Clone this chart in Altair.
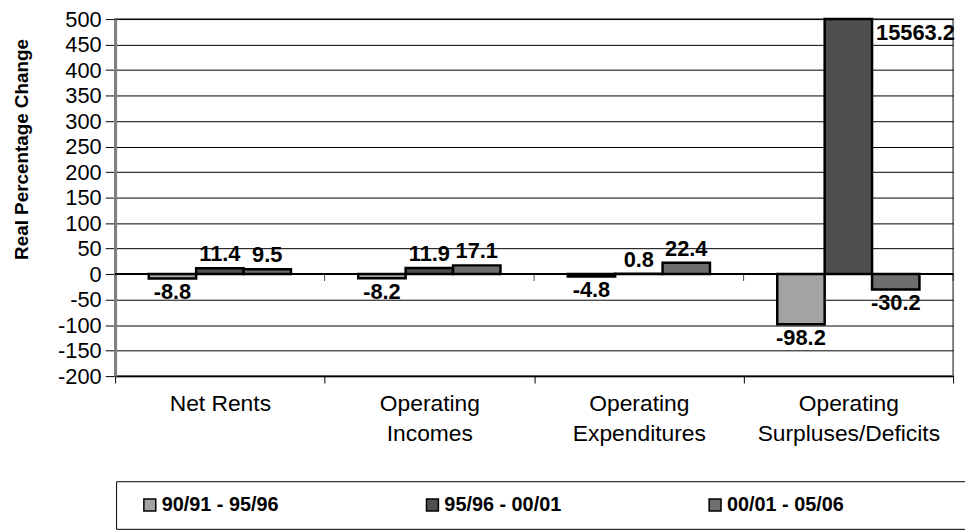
import altair as alt
import pandas as pd

categories = ["Net Rents", "Operating Incomes", "Operating Expenditures", "Operating Surpluses/Deficits"]
series = ["90/91 - 95/96", "95/96 - 00/01", "00/01 - 05/06"]
colors = ["#a3a3a3", "#4f4f4f", "#6e6e6e"]
values_9096 = [-8.8, -8.2, -4.8, -98.2]
values_9501 = [11.4, 11.9, 0.8, 15563.2]
values_0106 = [9.5, 17.1, 22.4, -30.2]
y_min, y_max, y_step = -200, 500, 50
y_ticks = list(range(y_min, y_max + 1, y_step))

rows = []
for s, vals in zip(series, [values_9096, values_9501, values_0106]):
    for c, v in zip(categories, vals):
        rows.append({"category": c, "series": s, "value": v})
df = pd.DataFrame(rows)

FONT = "Liberation Sans, Arial, sans-serif"
W, H = 845, 360

base = alt.Chart(df).transform_calculate(
    shown=f"min(max(datum.value, {y_min}), {y_max})",
    label="'' + datum.value",
)

y_scale = alt.Scale(domain=[y_min, y_max], nice=False, zero=False)
y_axis = alt.Axis(
    values=y_ticks,
    labelOverlap=False,
    labelExpr="'' + datum.value",
    title="Real Percentage Change",
    titleFont=FONT,
    titleFontSize=19,
    titleFontWeight="bold",
    titleColor="black",
    titlePadding=26,
    titleY=131,
    labelFont=FONT,
    labelFontSize=22,
    labelColor="black",
    labelPadding=4,
    tickColor="black",
    tickSize=10,
    domainColor="#808080",
    domainWidth=3,
    grid=True,
    gridColor="black",
    gridWidth=1,
)
x_scale = alt.Scale(domain=categories, paddingInner=0, paddingOuter=0)
x_axis = alt.Axis(
    title=None,
    labelAngle=0,
    tickBand="extent",
    labelExpr="indexof(datum.label, 'Operating') == 0 ? split(datum.label, ' ') : datum.label",
    labelFont=FONT,
    labelFontSize=23,
    labelColor="black",
    labelPadding=10,
    labelLineHeight=30,
    labelLimit=400,
    labelBaseline="top",
    domainColor="black",
    domainWidth=1.5,
    tickColor="black",
    tickSize=7,
    grid=False,
)

x_enc = alt.X("category:N", sort=categories, scale=x_scale, axis=x_axis)
xoff_enc = alt.XOffset("series:N", sort=series, scale=alt.Scale(paddingInner=0, paddingOuter=0.71))
y_enc = alt.Y("shown:Q", scale=y_scale, axis=y_axis)
color_enc = alt.Color(
    "series:N",
    sort=series,
    scale=alt.Scale(domain=series, range=colors),
    legend=alt.Legend(
        orient="none",
        legendX=1,
        legendY=466,
        direction="horizontal",
        title="\u00a0",
        titleOrient="right",
        titlePadding=118,
        titleFontSize=8,
        strokeColor="black",
        fillColor="white",
        padding=14,
        symbolType="square",
        symbolSize=144,
        symbolStrokeColor="black",
        symbolStrokeWidth=1.5,
        symbolOffset=10,
        labelFont=FONT,
        labelFontSize=20,
        labelFontWeight="bold",
        labelColor="black",
        labelOffset=2,
        labelLimit=400,
        columnPadding=135,
    ),
)

zero_df = pd.DataFrame({"category": categories, "zero": [0] * len(categories)})
zero_line = alt.Chart(zero_df).mark_rule(color="black", strokeWidth=1.5).encode(
    y=alt.Y("zero:Q", scale=y_scale, axis=y_axis)
)
zero_ticks_start = alt.Chart(zero_df).transform_filter(
    f"datum.category != '{categories[0]}'"
).mark_tick(orient="vertical", size=7, thickness=1, color="black", yOffset=3.5).encode(
    x=alt.X("category:N", sort=categories, scale=x_scale, axis=x_axis, bandPosition=0),
    y=alt.Y("zero:Q", scale=y_scale, axis=y_axis),
)
zero_ticks_end = alt.Chart(zero_df).transform_filter(
    f"datum.category == '{categories[-1]}'"
).mark_tick(orient="vertical", size=7, thickness=1, color="black", yOffset=3.5).encode(
    x=alt.X("category:N", sort=categories, scale=x_scale, axis=x_axis, bandPosition=1),
    y=alt.Y("zero:Q", scale=y_scale, axis=y_axis),
)

bars = base.mark_bar(stroke="black", strokeWidth=2.5).encode(
    x=x_enc, xOffset=xoff_enc, y=y_enc, color=color_enc
)

txt = dict(font=FONT, fontSize=22, fontWeight="bold", color="black")
pos_labels = base.transform_filter(f"datum.value >= 0 && datum.value <= {y_max}").mark_text(
    baseline="bottom", dy=-2, **txt
).encode(x=x_enc, xOffset=xoff_enc, y=y_enc, text="label:N")
neg_labels = base.transform_filter("datum.value < 0").mark_text(
    baseline="top", dy=4, **txt
).encode(x=x_enc, xOffset=xoff_enc, y=y_enc, text="label:N")
over_labels = base.transform_filter(f"datum.value > {y_max}").mark_text(
    baseline="top", align="left", dx=28, dy=4, **txt
).encode(x=x_enc, xOffset=xoff_enc, y=y_enc, text="label:N")

chart = (
    alt.layer(zero_line, zero_ticks_start, zero_ticks_end, bars, pos_labels, neg_labels, over_labels)
    .properties(
        width=W,
        height=H,
        autosize=alt.AutoSizeParams(type="none"),
        padding={"left": 108, "top": 9, "right": 12, "bottom": 153},
    )
    .configure_view(stroke="#808080", strokeWidth=2)
)

chart.save("out.html", embed_options={"renderer": "svg", "actions": False})
